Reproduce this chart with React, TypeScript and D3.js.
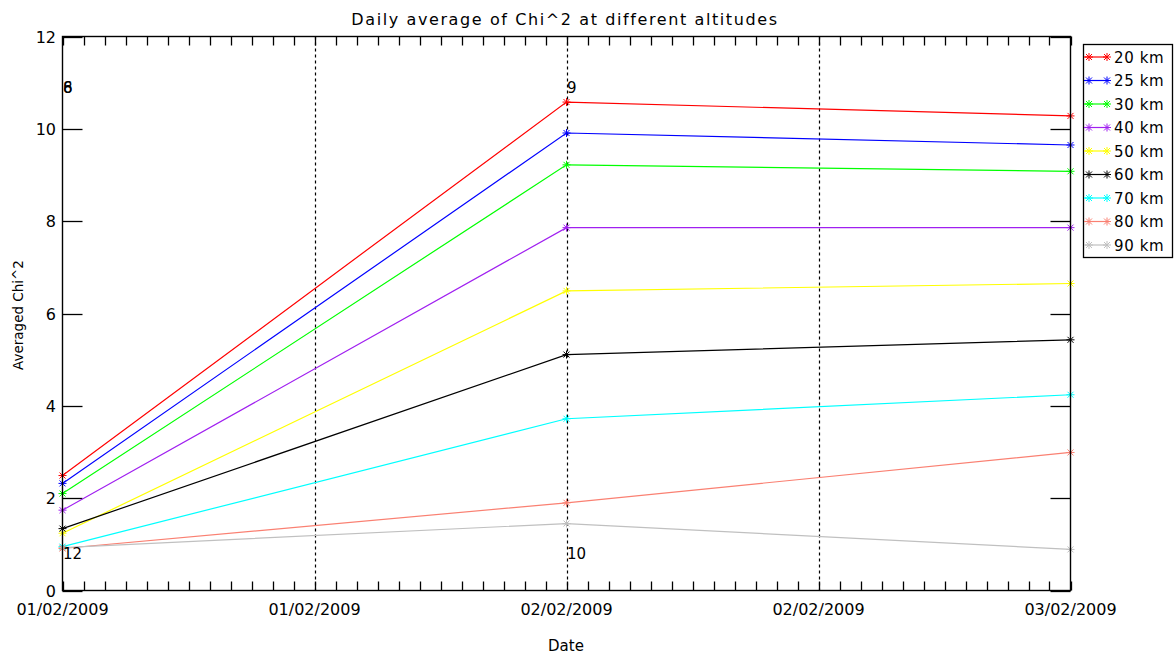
import React from "react";
import * as d3 from "d3";

const dates = [new Date(2009, 1, 1), new Date(2009, 1, 2), new Date(2009, 1, 3)];
const altitudes = ["20 km", "25 km", "30 km", "40 km", "50 km", "60 km", "70 km", "80 km", "90 km"];
const colors = ["#ff0000", "#0000ff", "#00ff00", "#a020f0", "#ffff00", "#000000", "#00ffff", "#fa8072", "#c0c0c0"];
const s20 = [2.49, 10.58, 10.28];
const s25 = [2.32, 9.91, 9.65];
const s30 = [2.1, 9.22, 9.08];
const s40 = [1.74, 7.86, 7.86];
const s50 = [1.24, 6.49, 6.65];
const s60 = [1.34, 5.11, 5.43];
const s70 = [0.95, 3.72, 4.24];
const s80 = [0.91, 1.9, 2.99];
const s90 = [0.93, 1.45, 0.89];
const series = [s20, s25, s30, s40, s50, s60, s70, s80, s90];
const yTicks = [0, 2, 4, 6, 8, 10, 12];
const annotations = [
  { d: 0, v: 10.9, t: "8" },
  { d: 0, v: 10.9, t: "6" },
  { d: 1, v: 10.9, t: "9" },
  { d: 0, v: 0.82, t: "12" },
  { d: 1, v: 0.82, t: "10" },
];

const W = 1174, H = 654;
const L = 62.5, R = 1070.5, T = 36.5, B = 590.5;
const FONT = "'DejaVu Sans', sans-serif";

function Star({ x, y, c }: { x: number; y: number; c: string }) {
  const r = 4;
  const q = 3;
  return (
    <g stroke={c} strokeWidth={1}>
      <line x1={x - r} y1={y} x2={x + r} y2={y} />
      <line x1={x} y1={y - r} x2={x} y2={y + r} />
      <line x1={x - q} y1={y - q} x2={x + q} y2={y + q} />
      <line x1={x - q} y1={y + q} x2={x + q} y2={y - q} />
    </g>
  );
}

export default function App() {
  const x = d3.scaleTime().domain([dates[0], dates[2]]).range([L, R]);
  const y = d3.scaleLinear().domain([0, 12]).range([B, T]);
  const fmt = d3.timeFormat("%d/%m/%Y");
  const majors = d3.timeHour.every(12)!.range(dates[0], new Date(2009, 1, 3, 1));
  const minors = d3.timeMinute.every(144)!.range(dates[0], new Date(2009, 1, 3, 1));
  const line = d3.line<[Date, number]>().x((d) => x(d[0])).y((d) => y(d[1]));

  return (
    <svg width={W} height={H} style={{ position: "absolute", left: 0, top: 0, background: "#fff" }}>
      <rect x={0} y={0} width={W} height={H} fill="#fff" />
      <text x={565} y={25} textAnchor="middle" fontFamily={FONT} fontSize={16} letterSpacing={1.6}>Daily average of Chi^2 at different altitudes</text>
      {/* dotted majors */}
      {majors.slice(1, -1).map((d, i) => (
        <line key={"g" + i} x1={Math.round(x(d)) + 0.5} x2={Math.round(x(d)) + 0.5} y1={T} y2={B} stroke="#000" strokeWidth={1.2} strokeDasharray="3,3" />
      ))}
      {/* minor x ticks bottom & top */}
      {minors.map((d, i) => (
        <g key={"m" + i} stroke="#000" strokeWidth={1.3}>
          <line x1={Math.round(x(d)) + 0.5} x2={Math.round(x(d)) + 0.5} y1={B} y2={B - 9} />
          <line x1={Math.round(x(d)) + 0.5} x2={Math.round(x(d)) + 0.5} y1={T} y2={T + 9} />
        </g>
      ))}
      {/* y ticks */}
      {yTicks.map((v) => (
        <g key={"y" + v}>
          <line x1={L} x2={L + 20} y1={Math.round(y(v)) + 0.5} y2={Math.round(y(v)) + 0.5} stroke="#000" strokeWidth={1.3} />
          <line x1={R} x2={R - 20} y1={Math.round(y(v)) + 0.5} y2={Math.round(y(v)) + 0.5} stroke="#000" strokeWidth={1.3} />
          <text x={56} y={y(v) + 6} textAnchor="end" fontFamily={FONT} fontSize={16}>{v}</text>
        </g>
      ))}
      {/* x labels */}
      {majors.map((d, i) => (
        <text key={"xl" + i} x={x(d)} y={615} textAnchor="middle" fontFamily={FONT} fontSize={16}>{fmt(d)}</text>
      ))}
      <text x={566} y={651} textAnchor="middle" fontFamily={FONT} fontSize={15}>Date</text>
      <text transform={`translate(23,${315}) rotate(-90)`} textAnchor="middle" fontFamily={FONT} fontSize={13.5}>Averaged Chi^2</text>
      {/* series */}
      {series.map((s, i) => {
        const pts = s.map((v, j) => [dates[j], v] as [Date, number]);
        return (
          <g key={"s" + i}>
            <path d={line(pts)!} fill="none" stroke={colors[i]} strokeWidth={1.2} />
            {pts.map((p, j) => <Star key={j} x={x(p[0])} y={y(p[1])} c={colors[i]} />)}
          </g>
        );
      })}
      {annotations.map((a, i) => (
        <text key={"a" + i} x={x(dates[a.d]) + 0.5} y={y(a.v) + 6} fontFamily={FONT} fontSize={15}>{a.t}</text>
      ))}
      {/* axes frame */}
      <rect x={L} y={T} width={R - L} height={B - T} fill="none" stroke="#000" strokeWidth={1.4} />
      {/* legend */}
      <rect x={1083.5} y={44.5} width={89} height={213} fill="#fff" stroke="#000" strokeWidth={1.3} />
      {altitudes.map((a, i) => {
        const ly = 57 + i * 23.5;
        return (
          <g key={"l" + i}>
            <line x1={1084} x2={1108} y1={ly} y2={ly} stroke={colors[i]} strokeWidth={1.2} />
            <Star x={1089} y={ly} c={colors[i]} />
            <Star x={1107} y={ly} c={colors[i]} />
            <text x={1114} y={ly + 5.5} fontFamily={FONT} fontSize={15} letterSpacing={0.6}>{a}</text>
          </g>
        );
      })}
    </svg>
  );
}
